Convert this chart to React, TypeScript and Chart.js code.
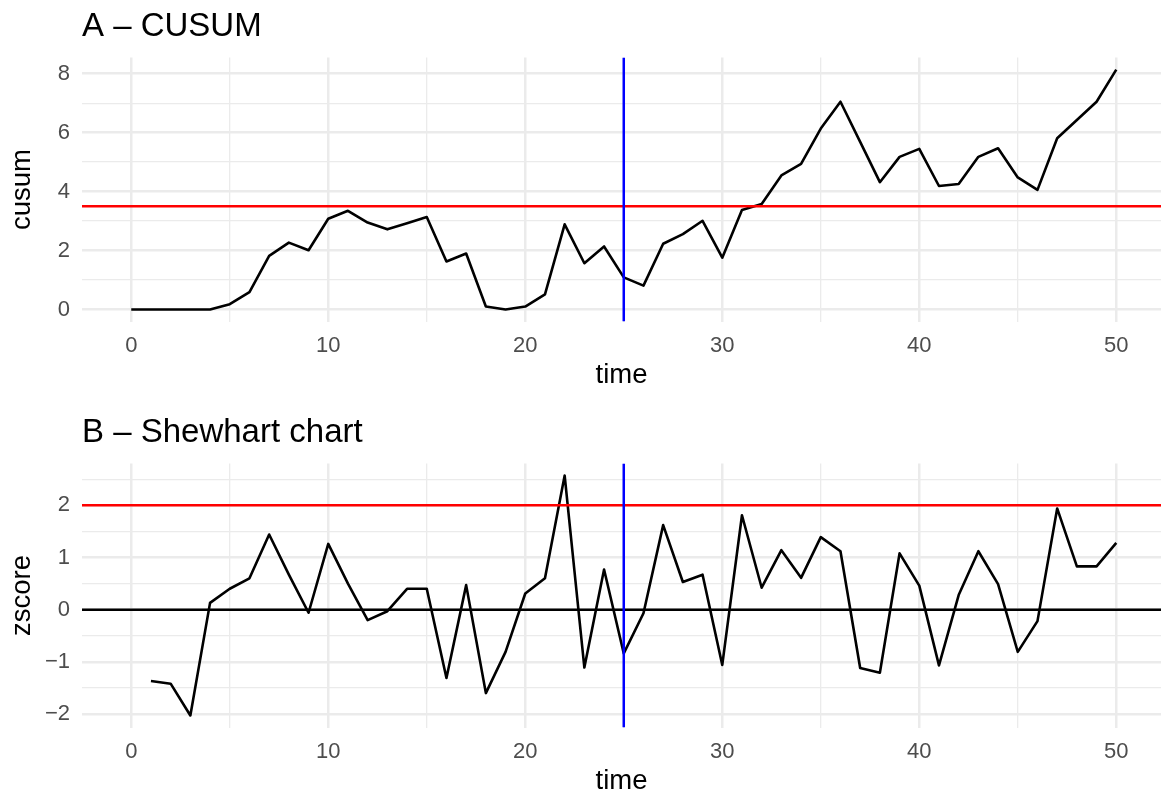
import React, { useEffect, useRef } from "react";
import { Chart, registerables } from "chart.js";

Chart.register(...registerables);

// ---- Data ----
const cusumTime = [
  0, 1, 2, 3, 4, 5, 6, 7, 8, 9, 10, 11, 12, 13, 14, 15, 16, 17, 18, 19, 20, 21, 22, 23, 24, 25,
  26, 27, 28, 29, 30, 31, 32, 33, 34, 35, 36, 37, 38, 39, 40, 41, 42, 43, 44, 45, 46, 47, 48, 49, 50,
];
const cusumValues = [
  0, 0, 0, 0, 0, 0.18, 0.59, 1.82, 2.27, 2.01, 3.08, 3.35, 2.95, 2.72, 2.93, 3.14, 1.63, 1.9, 0.1, 0,
  0.1, 0.51, 2.89, 1.57, 2.14, 1.09, 0.81, 2.23, 2.56, 3.01, 1.76, 3.38, 3.58, 4.55, 4.94, 6.14, 7.05,
  5.69, 4.32, 5.18, 5.45, 4.19, 4.26, 5.18, 5.47, 4.48, 4.06, 5.81, 6.43, 7.05, 8.14,
];
const zTime = [
  1, 2, 3, 4, 5, 6, 7, 8, 9, 10, 11, 12, 13, 14, 15, 16, 17, 18, 19, 20, 21, 22, 23, 24, 25,
  26, 27, 28, 29, 30, 31, 32, 33, 34, 35, 36, 37, 38, 39, 40, 41, 42, 43, 44, 45, 46, 47, 48, 49, 50,
];
const zValues = [
  -1.37, -1.42, -2.03, 0.13, 0.4, 0.6, 1.44, 0.67, -0.06, 1.26, 0.5, -0.2, -0.03, 0.4, 0.4, -1.31,
  0.47, -1.6, -0.81, 0.31, 0.6, 2.57, -1.11, 0.77, -0.84, -0.07, 1.62, 0.53, 0.67, -1.06, 1.81, 0.42,
  1.14, 0.61, 1.39, 1.12, -1.12, -1.21, 1.08, 0.46, -1.07, 0.28, 1.12, 0.49, -0.81, -0.22, 1.94, 0.83,
  0.83, 1.28,
];
const xTickLabels = [0, 10, 20, 30, 40, 50];
const cusumTickLabels = [0, 2, 4, 6, 8];
const zTickLabels = [-2, -1, 0, 1, 2];
const cusumThreshold = 3.5;
const zThreshold = 2;
const zBaseline = 0;
const changePoint = 25;

const FONT = "'Liberation Sans', Arial, Helvetica, sans-serif";
const GRID = "#EBEBEB";

type HLine = { value: number; color: string };

const refLinesPlugin = {
  id: "refLines",
  afterDatasetsDraw(chart: any) {
    const opts = chart.options.plugins.refLines;
    if (!opts) return;
    const { ctx, chartArea } = chart;
    const xs = chart.scales.x;
    const ys = chart.scales.y;
    ctx.save();
    ctx.beginPath();
    ctx.rect(chartArea.left, chartArea.top, chartArea.right - chartArea.left, chartArea.bottom - chartArea.top);
    ctx.clip();
    ctx.lineWidth = 2.5;
    ctx.lineCap = "butt";
    (opts.hlines as HLine[]).forEach((h) => {
      const y = ys.getPixelForValue(h.value);
      ctx.strokeStyle = h.color;
      ctx.beginPath();
      ctx.moveTo(chartArea.left, y);
      ctx.lineTo(chartArea.right, y);
      ctx.stroke();
    });
    if (opts.vline !== undefined) {
      const x = xs.getPixelForValue(opts.vline);
      ctx.strokeStyle = "#0000FF";
      ctx.beginPath();
      ctx.moveTo(x, chartArea.top);
      ctx.lineTo(x, chartArea.bottom);
      ctx.stroke();
    }
    ctx.restore();
  },
};

function fmt(v: number) {
  return v < 0 ? "\u2212" + Math.abs(v) : String(v);
}

function isIn(list: number[], v: number) {
  return list.some((t) => Math.abs(t - v) < 1e-6);
}

function isMajorY(v: number, step: number, labels: number[]) {
  if (step < 1) return Math.abs(v - Math.round(v)) < 1e-6;
  return isIn(labels, v);
}

type PanelProps = {
  title: string;
  yLabel: string;
  xs: number[];
  ys: number[];
  yStep: number;
  yLabels: number[];
  hlines: HLine[];
  extra: number[];
};

function Panel({ title, yLabel, xs, ys, yStep, yLabels, hlines, extra }: PanelProps) {
  const ref = useRef<HTMLCanvasElement | null>(null);
  useEffect(() => {
    if (!ref.current) return;
    const all = ys.concat(extra);
    const lo = Math.min(...all);
    const hi = Math.max(...all);
    const pad = (hi - lo) * 0.05;
    const chart = new Chart(ref.current, {
      type: "line",
      data: {
        datasets: [
          {
            data: xs.map((x, i) => ({ x, y: ys[i] })),
            borderColor: "#000000",
            borderWidth: 2.6,
            pointRadius: 0,
            tension: 0,
            fill: false,
            borderJoinStyle: "round",
          },
        ],
      },
      plugins: [refLinesPlugin],
      options: {
        animation: false,
        responsive: false,
        devicePixelRatio: 1,
        events: [],
        layout: { padding: { top: 0, left: 0, right: 0, bottom: 0 } },
        plugins: {
          legend: { display: false },
          tooltip: { enabled: false },
          title: {
            display: true,
            text: title,
            align: "start",
            fullSize: false,
            color: "#000000",
            font: { family: FONT, size: 33, weight: "normal" },
            padding: { top: 7, bottom: 11 },
          },
          refLines: { hlines, vline: changePoint },
        } as any,
        scales: {
          x: {
            type: "linear",
            min: -2.5,
            max: 52.27,
            afterFit: (s: any) => {
              s.height = 74.5;
            },
            ticks: {
              stepSize: 5,
              autoSkip: false,
              includeBounds: false,
              maxRotation: 0,
              padding: 11,
              color: "#4D4D4D",
              font: { family: FONT, size: 22 },
              callback: (v: any) => (isIn(xTickLabels, Number(v)) ? String(v) : ""),
            },
            grid: {
              drawTicks: false,
              color: GRID,
              lineWidth: (c: any) => (isIn(xTickLabels, c.tick?.value) ? 2.5 : 1.3),
            },
            border: { display: false },
            title: {
              display: true,
              text: "time",
              color: "#000000",
              font: { family: FONT, size: 27.5 },
              padding: { top: 0, bottom: 4 },
            },
          },
          y: {
            type: "linear",
            min: lo - pad,
            max: hi + pad,
            afterFit: (s: any) => {
              s.width = 82;
            },
            ticks: {
              stepSize: yStep,
              autoSkip: false,
              includeBounds: false,
              padding: 12,
              color: "#4D4D4D",
              font: { family: FONT, size: 22 },
              callback: (v: any) => (isIn(yLabels, Number(v)) ? fmt(Number(v)) : ""),
            },
            grid: {
              drawTicks: false,
              color: GRID,
              lineWidth: (c: any) => (isMajorY(c.tick?.value, yStep, yLabels) ? 2.5 : 1.3),
            },
            border: { display: false },
            title: {
              display: true,
              text: yLabel,
              color: "#000000",
              font: { family: FONT, size: 27.5 },
              padding: { top: 6, bottom: 0 },
            },
          },
        },
      } as any,
    });
    return () => chart.destroy();
  }, []);
  return <canvas ref={ref} width={1161} height={396} style={{ width: 1161, height: 396, display: "block" }} />;
}

export default function App() {
  return (
    <div
      style={{
        position: "fixed",
        left: 0,
        top: 0,
        width: 1161,
        height: 793,
        overflow: "hidden",
        background: "#FFFFFF",
      }}
    >
      <div style={{ position: "absolute", left: 0, top: 0 }}>
        <Panel
          title="A – CUSUM"
          yLabel="cusum"
          xs={cusumTime}
          ys={cusumValues}
          yStep={1}
          yLabels={cusumTickLabels}
          hlines={[{ value: cusumThreshold, color: "#FF0000" }]}
          extra={[cusumThreshold]}
        />
      </div>
      <div style={{ position: "absolute", left: 0, top: 406 }}>
        <Panel
          title="B – Shewhart chart"
          yLabel="zscore"
          xs={zTime}
          ys={zValues}
          yStep={0.5}
          yLabels={zTickLabels}
          hlines={[
            { value: zThreshold, color: "#FF0000" },
            { value: zBaseline, color: "#000000" },
          ]}
          extra={[zThreshold, zBaseline]}
        />
      </div>
    </div>
  );
}
